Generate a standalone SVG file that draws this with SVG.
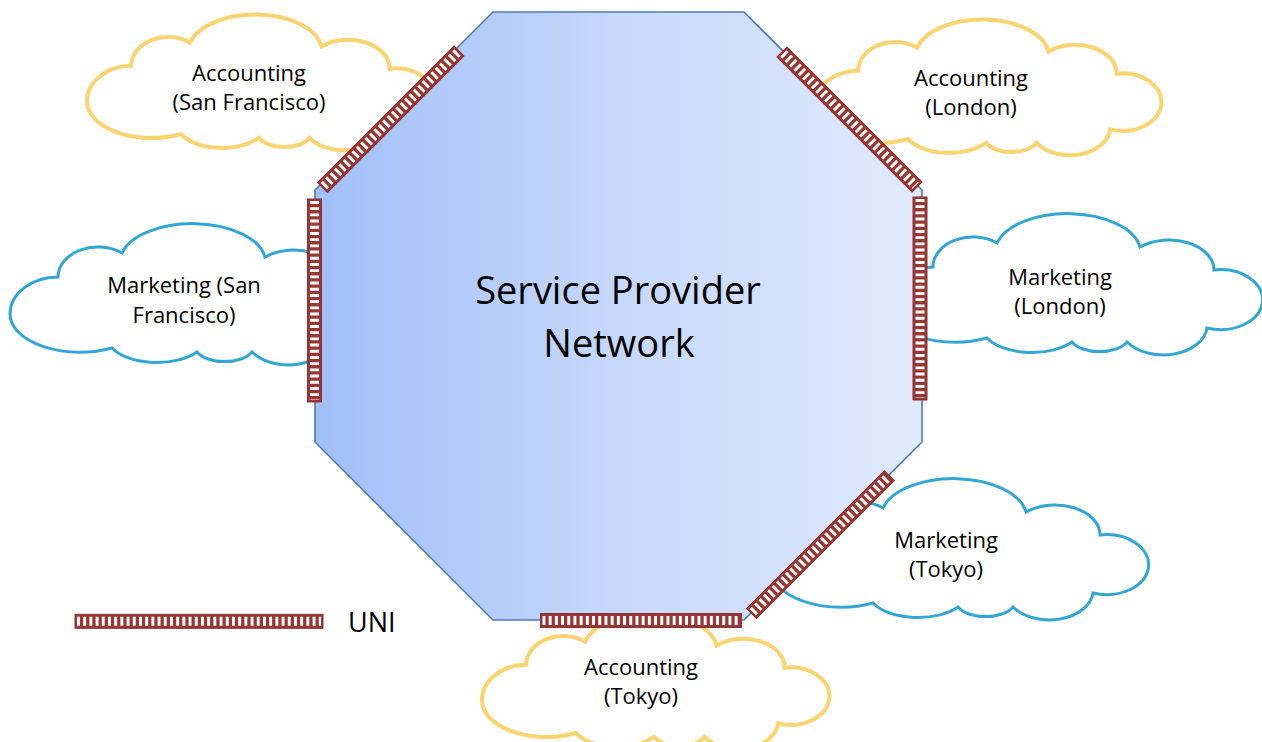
<svg xmlns="http://www.w3.org/2000/svg" xmlns:xlink="http://www.w3.org/1999/xlink" width="1262" height="742" viewBox="0 0 1262 742">
<style>
.yel{fill:#fff;stroke:#f9d470;stroke-width:4}
.blu{fill:#fff;stroke:#33a6d4;stroke-width:3}
.lbl{font-family:"Open Sans","Liberation Sans",sans-serif;font-size:22px;fill:#000;text-anchor:middle}
.big{font-family:"Open Sans","Liberation Sans",sans-serif;font-size:38px;fill:#000;text-anchor:middle}
.uni rect{fill:#983835;stroke:#8e302e;stroke-width:1}
.uni line{stroke:#fff;stroke-width:9;stroke-dasharray:2.9 3.3}
</style>
<defs>
<path id="cloud" vector-effect="non-scaling-stroke" d="M48,55 A40,30 0 0 1 112,31 A73,39 0 0 1 255,35 A45,30 0 0 1 329,58 A42,30 0 1 1 322,116 A44,30 0 0 1 242,130 A30,16 0 0 1 187,130 A50,26 0 0 1 102,126 A70,38.2 0 0 1 0,92 A48,37 0 0 1 48,55 Z"/>
<linearGradient id="oct" x1="315" y1="0" x2="922" y2="0" gradientUnits="userSpaceOnUse">
<stop offset="0" stop-color="#a1bff8"/>
<stop offset="0.5" stop-color="#c6d8fb"/>
<stop offset="1" stop-color="#e0eafc"/>
</linearGradient>
</defs>

<g id="cloud-acc-sf">
<use xlink:href="#cloud" class="yel" transform="translate(87,13) scale(0.92,0.96)"/>
<text class="lbl" x="249" y="80.5">Accounting</text>
<text class="lbl" x="249" y="109.5">(San Francisco)</text>
</g>
<g id="cloud-acc-lon">
<use xlink:href="#cloud" class="yel" transform="translate(814,18) scale(0.92,0.96)"/>
<text class="lbl" x="971" y="85.5">Accounting</text>
<text class="lbl" x="971" y="114.5">(London)</text>
</g>
<g id="cloud-mkt-sf">
<use xlink:href="#cloud" class="blu" transform="translate(10,222)"/>
<text class="lbl" x="184" y="293">Marketing (San</text>
<text class="lbl" x="184" y="322.5">Francisco)</text>
</g>
<g id="cloud-mkt-lon">
<use xlink:href="#cloud" class="blu" transform="translate(885,212)"/>
<text class="lbl" x="1060" y="285">Marketing</text>
<text class="lbl" x="1060" y="314">(London)</text>
</g>
<g id="cloud-mkt-tok">
<use xlink:href="#cloud" class="blu" transform="translate(771,477)"/>
<text class="lbl" x="946" y="548">Marketing</text>
<text class="lbl" x="946" y="577">(Tokyo)</text>
</g>
<g id="cloud-acc-tok">
<use xlink:href="#cloud" class="yel" transform="translate(482,612) scale(0.92,0.96)"/>
<text class="lbl" x="641" y="675">Accounting</text>
<text class="lbl" x="641" y="704">(Tokyo)</text>
</g>

<g id="network">
<polygon points="493,12 744,12 922,190 922,442 744,620 493,620 315,442 315,190" fill="url(#oct)" stroke="#4a7ebb" stroke-width="1.6"/>
<text class="big" x="618" y="304">Service Provider</text>
<text class="big" x="619" y="357">Network</text>
</g>

<g id="connectors">
<g class="uni" transform="translate(322.5,187.5) rotate(-45)"><rect x="0" y="-7" width="193" height="14"/><line x1="2" y1="0" x2="191" y2="0"/></g>
<g class="uni" transform="translate(782,52) rotate(45)"><rect x="0" y="-7" width="191" height="14"/><line x1="2" y1="0" x2="189" y2="0"/></g>
<g class="uni" transform="translate(314.5,199) rotate(90)"><rect x="0" y="-7" width="203" height="14"/><line x1="2" y1="0" x2="201" y2="0"/></g>
<g class="uni" transform="translate(920,197) rotate(90)"><rect x="0" y="-7" width="203" height="14"/><line x1="2" y1="0" x2="201" y2="0"/></g>
<g class="uni" transform="translate(751.5,613.5) rotate(-45)"><rect x="0" y="-7" width="195" height="14"/><line x1="2" y1="0" x2="193" y2="0"/></g>
<g class="uni" transform="translate(540.5,620.5)"><rect x="0" y="-7" width="201" height="14"/><line x1="2" y1="0" x2="199" y2="0"/></g>
</g>

<g id="legend">
<g class="uni" transform="translate(75,621.3)"><rect x="0" y="-7" width="248" height="14"/><line x1="2" y1="0" x2="246" y2="0"/></g>
<text x="348" y="632" font-family="'Open Sans','Liberation Sans',sans-serif" font-size="27" fill="#000">UNI</text>
</g>
</svg>
